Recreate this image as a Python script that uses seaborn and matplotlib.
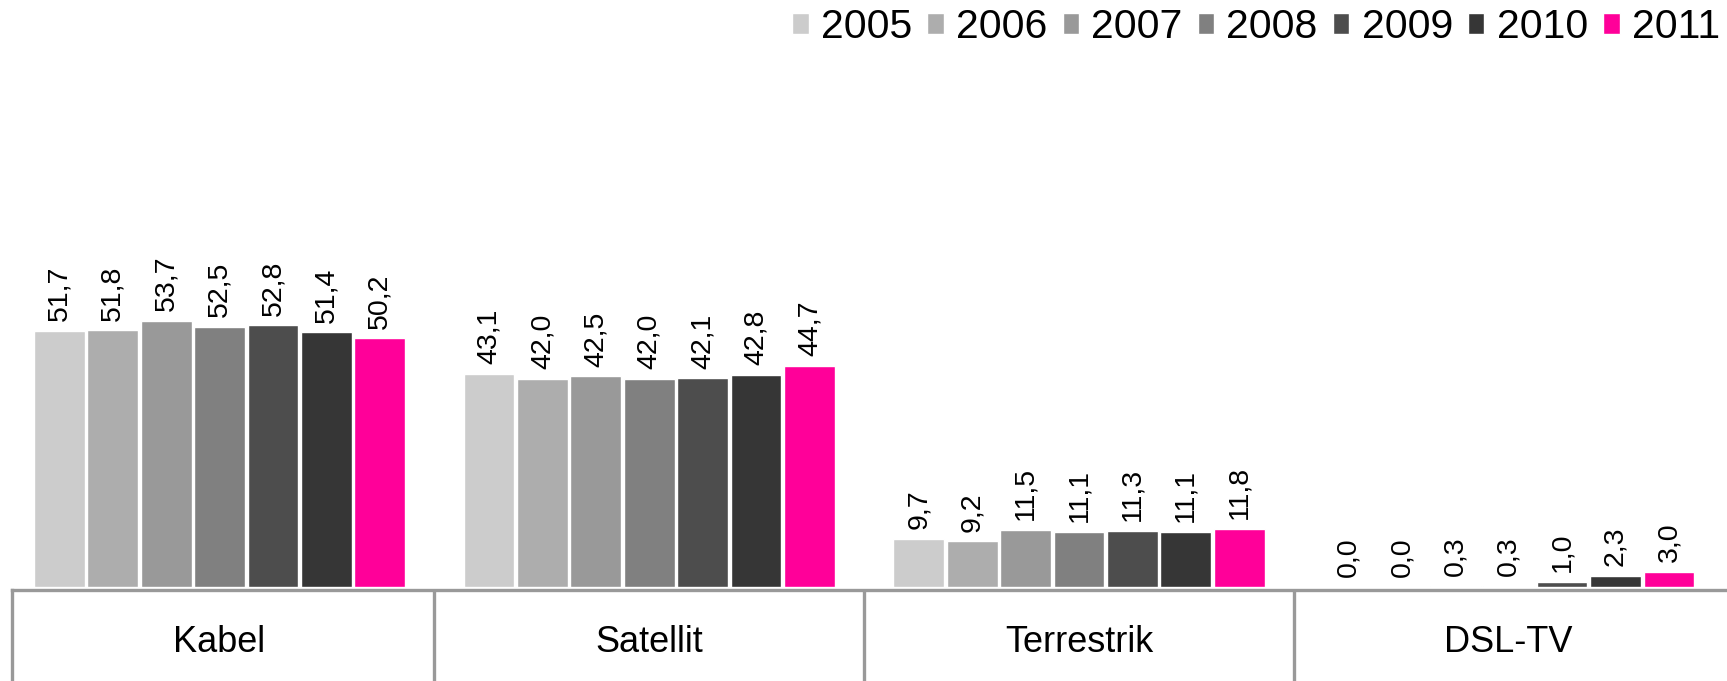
import pandas as pd
import matplotlib.pyplot as plt
import seaborn as sns

# ------------------------------
# Data
# ------------------------------
kategorien = ["Kabel", "Satellit", "Terrestrik", "DSL-TV"]
jahre = ["2005", "2006", "2007", "2008", "2009", "2010", "2011"]

werte = {
    "2005": [51.7, 43.1, 9.7, 0.0],
    "2006": [51.8, 42.0, 9.2, 0.0],
    "2007": [53.7, 42.5, 11.5, 0.3],
    "2008": [52.5, 42.0, 11.1, 0.3],
    "2009": [52.8, 42.1, 11.3, 1.0],
    "2010": [51.4, 42.8, 11.1, 2.3],
    "2011": [50.2, 44.7, 11.8, 3.0],
}

farben = ["#cccccc", "#adadad", "#999999", "#808080", "#4d4d4d", "#363636", "#ff0099"]

rows = []
for j in jahre:
    for k, v in zip(kategorien, werte[j]):
        rows.append({"Kategorie": k, "Jahr": j, "Wert": v})
df = pd.DataFrame(rows)

# ------------------------------
# Figure setup
# ------------------------------
sns.set_style("white")
plt.rcParams["font.family"] = ["Liberation Sans", "DejaVu Sans"]
plt.rcParams["text.color"] = "black"

W, H = 1727, 681
fig = plt.figure(figsize=(W / 100, H / 100), dpi=100)

x_left = 12 / W
xlim = (-0.483, 3.508)

ax = fig.add_axes([x_left, (H - 587) / H, 1 - x_left, 587 / H])
sns.barplot(data=df, x="Kategorie", y="Wert", hue="Jahr", palette=farben,
            width=0.87, gap=0.05, saturation=1, ax=ax, legend=True)

ax.set_xlim(*xlim)
ax.set_ylim(0, 118.5)
for s in ax.spines.values():
    s.set_visible(False)
ax.set_xticks([])
ax.set_yticks([])
ax.set_xlabel("")
ax.set_ylabel("")

# value labels
for cont in ax.containers:
    labels = [f"{b.get_height():.1f}".replace(".", ",") for b in cont]
    ax.bar_label(cont, labels=labels, rotation=90, padding=7, fontsize=20.5, color="black")

# legend
handles, labels = ax.get_legend_handles_labels()
ax.get_legend().remove()
leg = fig.legend(handles, labels, loc="upper right", bbox_to_anchor=(1720 / W, 1 - 8 / H),
                 ncol=7, frameon=False, fontsize=29.5, handlelength=0.4, handleheight=0.4,
                 handletextpad=0.3, columnspacing=0.37, borderpad=0, borderaxespad=0)
for t in leg.get_texts():
    t.set_color("black")

# ------------------------------
# Category boxes at the bottom
# ------------------------------
ax2 = fig.add_axes([x_left, 0, 1 - x_left, (H - 590) / H])
ax2.set_xlim(*xlim)
ax2.set_ylim(0, 1)
ax2.set_xticks([])
ax2.set_yticks([])
for side in ["right", "bottom"]:
    ax2.spines[side].set_visible(False)
for side in ["top", "left"]:
    ax2.spines[side].set_color("#999999")
    ax2.spines[side].set_linewidth(2.4)
for b in [0.5, 1.5, 2.5]:
    ax2.axvline(b, color="#999999", linewidth=2.4)
for i, k in enumerate(kategorien):
    ax2.text(i, 0.32, k, ha="center", va="baseline", fontsize=26, color="black")

plt.savefig("out.png", dpi=100)
